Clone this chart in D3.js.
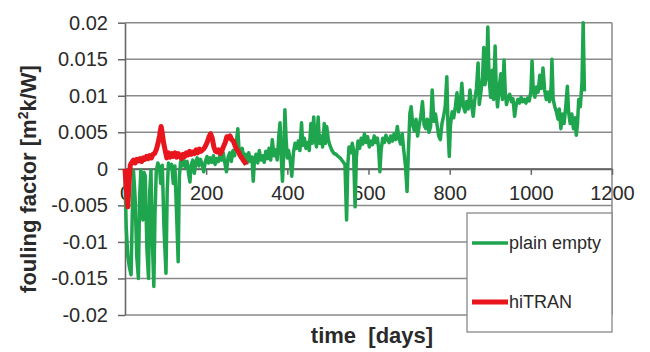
<!DOCTYPE html>
<html>
<head>
<meta charset="utf-8">
<script src="https://cdn.jsdelivr.net/npm/d3@7"></script>
<style>
  html, body { margin: 0; padding: 0; background: #fff; }
  svg { display: block; font-family: "Liberation Sans", Arial, sans-serif; }
</style>
</head>
<body>
<div id="chart"></div>
<script>
// plain empty tube
const plainDays = [0,3,7,11,15,18,21,25,29,33,36,39,42,44,47,50,54,58,61,64,67,71,74,77,81,85,88,92,96,101,104,107,111,115,119,123,127,131,134,137,141,145,149,153,157,160,163,167,171,174,178,182,186,190,194,198,202,206,210,214,218,222,226,230,234,238,242,246,250,254,258,262,266,270,274,278,281,285,289,293,297,301,305,309,313,316,319,323,327,331,335,339,343,347,351,355,359,363,367,371,375,379,382,385,388,391,394,397,400,403,407,411,415,419,423,427,431,435,438,442,446,450,454,458,461,465,468,472,476,479,483,487,491,494,497,501,505,510,515,520,525,530,534,538,542,546,549,552,556,560,563,567,570,574,578,582,586,590,594,598,602,606,610,614,618,622,625,628,631,635,639,643,647,651,655,659,663,667,671,675,679,683,687,691,695,698,702,705,709,713,717,721,725,729,733,737,741,745,749,753,757,761,765,769,773,777,781,785,789,793,796,799,802,806,810,814,818,822,826,830,834,838,842,846,850,854,858,862,866,870,873,877,881,884,887,891,894,897,901,905,908,912,915,918,922,926,930,934,937,940,944,948,952,956,960,964,968,972,976,980,984,988,992,996,1000,1003,1006,1010,1014,1018,1022,1026,1030,1034,1038,1042,1046,1050,1052,1055,1059,1063,1067,1070,1074,1078,1082,1086,1090,1093,1097,1101,1105,1109,1112,1115,1118,1122,1126,1129,1132];
const plainValues = [-0.001,-0.008,-0.012,-0.0135,-0.0145,-0.006,-0.0003,-0.004,-0.012,-0.015,-0.004,-0.0002,-0.005,-0.007,-0.0005,-0.001,-0.011,-0.015,-0.003,-0.0002,-0.009,-0.0161,-0.006,-0.0003,0.0008,0.0002,-0.002,0.0005,-0.008,-0.0143,-0.003,0.0008,0.0003,0.0006,-0.002,0.0004,-0.006,-0.0127,-0.001,0.001,0.0004,0.0012,0.0002,0.001,-0.0008,-0.0018,0.0005,0.0012,-0.0006,0.0008,0.0015,0.0004,0.0013,0.0006,-0.0004,0.001,0.0017,0.0008,0.0015,0.0009,0.0018,0.0006,0.0014,0.001,0.0019,0.0012,0.0022,0.0008,-0.0004,0.0016,0.0022,0.001,0.0025,0.0018,0.0035,0.0055,0.0025,0.0015,0.0028,0.0012,0.002,0.0008,0.0022,0.001,0.0016,-0.0017,0.0012,0.002,0.0008,0.0025,0.0012,0.0018,0.0009,0.0024,0.0014,0.0028,0.0012,0.004,0.0018,0.0026,0.0012,0.0045,0.0063,0.0015,-0.0017,0.002,0.0081,0.004,0.0015,0.0025,0.0012,-0.001,0.0022,0.0035,0.0028,0.0038,0.0025,0.0063,0.0032,0.0042,0.0028,0.0036,0.0025,0.0062,0.0035,0.0071,0.004,0.003,0.0071,0.0035,0.0045,0.003,0.0062,0.0035,0.0058,0.004,0.0032,0.0025,0.0021,0.002,0.0017,0.0015,0.0012,0.0009,0.0006,-0.007,0.0005,0.003,0.0022,0.0035,0.0026,-0.0052,0.0015,0.0038,0.0028,0.0042,0.0034,0.0048,0.0036,0.0044,0.003,0.0038,0.0033,0.0045,0.0036,0.0042,0.0028,-0.0004,0.0025,0.0042,0.0036,0.0046,0.004,0.0036,0.0045,0.0038,0.0048,0.004,0.0058,0.0042,0.0034,0.0048,0.0025,0.0005,-0.0031,0.002,0.0076,0.0085,0.006,0.0052,0.0068,0.0045,0.006,0.0072,0.0092,0.006,0.0055,0.0068,0.005,0.0058,0.0108,0.0065,0.0075,0.006,0.0045,0.004,0.0062,0.0072,0.0085,0.0126,0.0055,0.0017,0.006,0.0078,0.007,0.0085,0.0104,0.0078,0.0088,0.0117,0.0085,0.0078,0.0092,0.0082,0.0108,0.0088,0.0072,0.0095,0.011,0.0145,0.0088,0.0105,0.0125,0.0166,0.0115,0.013,0.0194,0.0125,0.0098,0.0135,0.0095,0.0168,0.0105,0.0085,0.0112,0.013,0.0095,0.0149,0.0105,0.0088,0.0098,0.0102,0.0092,0.0096,0.0072,0.0088,0.0095,0.009,0.0098,0.0092,0.0095,0.009,0.0097,0.0093,0.0105,0.0148,0.0108,0.0098,0.0112,0.0105,0.0128,0.011,0.0138,0.0108,0.0095,0.0105,0.0092,0.0112,0.015,0.0095,0.0085,0.0078,0.0068,0.0082,0.0055,0.0075,0.0062,0.0085,0.0113,0.0078,0.0062,0.0075,0.0055,0.007,0.0046,0.0062,0.0095,0.0085,0.0118,0.02,0.0106];

// hiTRAN insert
const hitranDays = [0,3,7,10,13,17,21,25,29,33,37,41,45,49,53,57,61,65,69,73,77,81,85,89,92,95,99,103,107,111,115,119,123,127,131,135,139,143,147,151,155,159,163,167,171,175,179,183,187,191,195,199,203,207,211,215,219,223,227,231,235,239,243,247,251,255,259,263,267,271,275,279,283,287,291,295,299];
const hitranValues = [0,-0.0025,-0.0052,-0.002,0.0005,0.0009,0.0012,0.0008,0.0013,0.0011,0.0014,0.001,0.0015,0.0013,0.0017,0.0014,0.0018,0.0015,0.002,0.0021,0.0026,0.0034,0.0045,0.0058,0.0048,0.0036,0.0025,0.0015,0.0022,0.0016,0.0021,0.0017,0.0022,0.0016,0.0021,0.0018,0.0014,0.002,0.0017,0.0022,0.0019,0.0024,0.002,0.0023,0.0021,0.0026,0.0022,0.0027,0.0024,0.0026,0.0028,0.0032,0.0037,0.0044,0.0048,0.0042,0.003,0.0024,0.0023,0.0026,0.0021,0.0025,0.0031,0.0036,0.0044,0.0042,0.0045,0.004,0.0038,0.0032,0.0027,0.0024,0.0019,0.0016,0.0012,0.0009,0.0006];

const xTicks = [0, 200, 400, 600, 800, 1000, 1200];
const yTicks = [-0.02, -0.015, -0.01, -0.005, 0, 0.005, 0.01, 0.015, 0.02];
const yTickLabels = ['-0.02', '-0.015', '-0.01', '-0.005', '0', '0.005', '0.01', '0.015', '0.02'];
const seriesNames = ['plain empty', 'hiTRAN'];

const width = 650;
const height = 352;
const green = '#1ea54e';
const red = '#e8151d';
const gridColor = '#8a8a8a';

const svg = d3.select('#chart').append('svg')
    .attr('width', width)
    .attr('height', height);

const xScale = d3.scaleLinear().domain([0, 1200]).range([125, 612]);
const yScale = d3.scaleLinear().domain([-0.02, 0.02]).range([315, 22.7]);

// grid
svg.append('g')
    .selectAll('line')
    .data(yTicks)
    .enter()
    .append('line')
    .attr('x1', xScale(0))
    .attr('x2', xScale(1200))
    .attr('y1', d => yScale(d))
    .attr('y2', d => yScale(d))
    .attr('stroke', gridColor)
    .attr('stroke-width', 1.5);

svg.append('line')
    .attr('x1', xScale(1200)).attr('x2', xScale(1200))
    .attr('y1', yScale(0.02)).attr('y2', yScale(-0.02))
    .attr('stroke', gridColor)
    .attr('stroke-width', 1.5);

// y axis
const yAxis = svg.append('g')
    .attr('transform', `translate(${xScale(0)},0)`)
    .call(d3.axisLeft(yScale)
        .tickValues(yTicks)
        .tickFormat((d, i) => yTickLabels[i])
        .tickSize(7)
        .tickPadding(10)
        .tickSizeOuter(0));

// x axis sits on zero
const xAxis = svg.append('g')
    .attr('transform', `translate(0,${yScale(0)})`)
    .call(d3.axisBottom(xScale)
        .tickValues(xTicks)
        .tickFormat(d3.format('d'))
        .tickSize(6)
        .tickPadding(11)
        .tickSizeOuter(0));

[yAxis, xAxis].forEach(ax => {
    ax.select('.domain').attr('stroke', '#666').attr('stroke-width', 1.6);
    ax.selectAll('.tick line').attr('stroke', '#666').attr('stroke-width', 1.5);
    ax.selectAll('.tick text')
        .attr('fill', '#2a2a2a')
        .style('font-size', '20px')
        .style('font-family', '"Liberation Sans", Arial, sans-serif');
});

// series
const line = d3.line()
    .x(d => xScale(d[0]))
    .y(d => yScale(d[1]))
    .curve(d3.curveLinear);

const plain = plainDays.map((d, i) => [d, plainValues[i]]);
const hitran = hitranDays.map((d, i) => [d, hitranValues[i]]);

svg.append('path')
    .datum(plain)
    .attr('fill', 'none')
    .attr('stroke', green)
    .attr('stroke-width', 3.5)
    .attr('stroke-linejoin', 'round')
    .attr('d', line);

svg.append('path')
    .datum(hitran)
    .attr('fill', 'none')
    .attr('stroke', red)
    .attr('stroke-width', 5)
    .attr('stroke-linejoin', 'round')
    .attr('d', line);

// axis titles
svg.append('text')
    .attr('transform', 'translate(36,179) rotate(-90)')
    .attr('text-anchor', 'middle')
    .attr('fill', '#2a2a2a')
    .style('font-size', '22px')
    .style('font-weight', 'bold')
    .call(t => {
        t.append('tspan').text('fouling factor [m');
        t.append('tspan').attr('baseline-shift', 'super').style('font-size', '14px').text('2');
        t.append('tspan').text('k/W]');
    });

svg.append('text')
    .attr('x', 372)
    .attr('y', 343)
    .attr('text-anchor', 'middle')
    .attr('fill', '#2a2a2a')
    .style('font-size', '22px')
    .style('font-weight', 'bold')
    .style('white-space', 'pre')
    .text('time  [days]');

// legend
const legend = svg.append('g');
legend.append('rect')
    .attr('x', 467).attr('y', 213)
    .attr('width', 145).attr('height', 119)
    .attr('fill', '#fff')
    .attr('stroke', '#888')
    .attr('stroke-width', 1.3);

const legendRows = [
    { name: seriesNames[0], color: green, w: 3.5, y: 243 },
    { name: seriesNames[1], color: red, w: 5, y: 302 }
];

legendRows.forEach(r => {
    legend.append('line')
        .attr('x1', 472).attr('x2', 508)
        .attr('y1', r.y).attr('y2', r.y)
        .attr('stroke', r.color)
        .attr('stroke-width', r.w);
    legend.append('text')
        .attr('x', 509)
        .attr('y', r.y + 6)
        .attr('fill', '#2a2a2a')
        .style('font-size', '18px')
        .text(r.name);
});
</script>
</body>
</html>
